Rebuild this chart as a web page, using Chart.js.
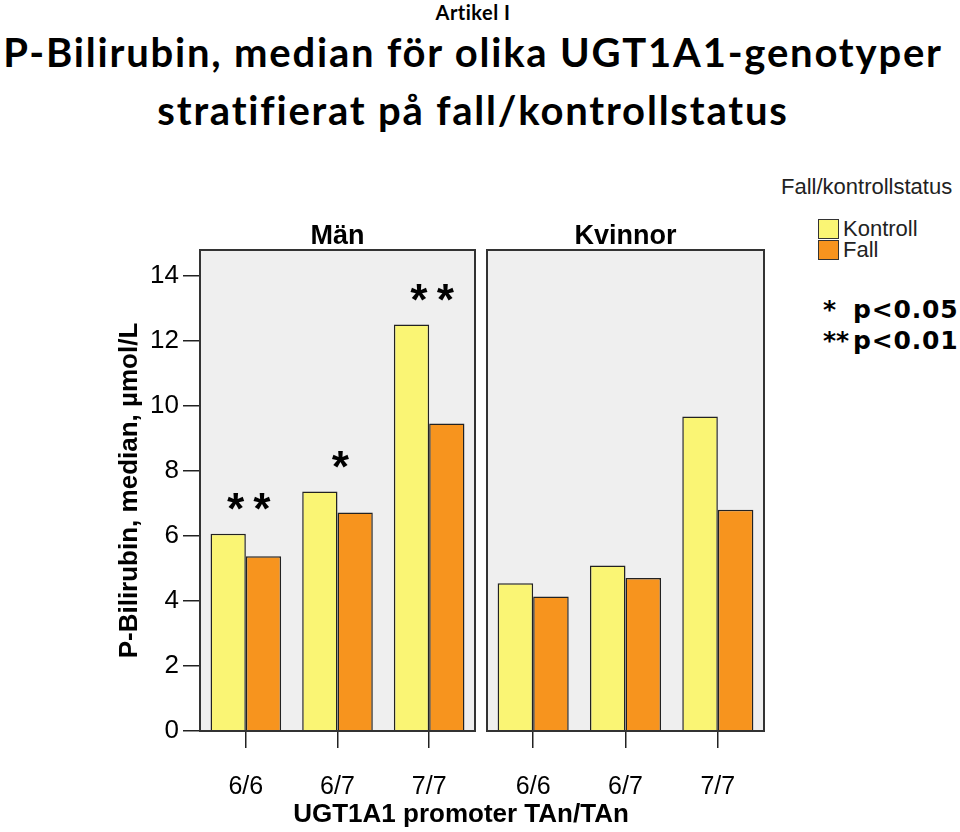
<!DOCTYPE html>
<html lang="sv">
<head>
  <meta charset="UTF-8" />
  <title>P-Bilirubin, median för olika UGT1A1-genotyper</title>
  <script src="https://cdn.jsdelivr.net/npm/chart.js"></script>
  <style>
    body {
      margin: 0;
      padding: 0;
      background: #fff;
      width: 960px;
      height: 832px;
      position: relative;
      overflow: hidden;
      font-family: "Liberation Sans", Arial, sans-serif;
      color: #000;
    }
    .abs { position: absolute; white-space: nowrap; }
    .head {
      left: 0; width: 946px;
      text-align: center;
      font-family: Lato, "Open Sans", sans-serif;
      font-weight: bold;
    }
    #artikel { top: 0; font-size: 20px; line-height: 24px; letter-spacing: 0.5px; }
    #line1 { top: 28px; font-size: 40px; line-height: 48px; letter-spacing: 1.8px; }
    #line2 { top: 86px; font-size: 40px; line-height: 48px; letter-spacing: 1.8px; }
    #xtitle {
      left: 200px; width: 522px; top: 798px;
      text-align: center; font-weight: bold; font-size: 26px; line-height: 30px;
    }
    #legend { left: 781px; top: 174px; font-size: 22px; color: #222; }
    #legend .ttl { line-height: 26px; margin-bottom: 18px; }
    #legend .item { margin-left: 37px; height: 21px; line-height: 21px; display: flex; align-items: center; }
    #legend .box { width: 19px; height: 18px; border: 1.5px solid #333; margin-right: 4px; }
    #notes {
      left: 823px; top: 294px;
      font-family: "DejaVu Sans", Verdana, sans-serif;
      font-weight: bold; font-size: 25px; line-height: 31px;
    }
    #notes .row { display: flex; }
    #notes .st { width: 30px; }
    #notes .tx { letter-spacing: 0.8px; }
    canvas { position: absolute; }
  </style>
</head>
<body>
  <div class="abs head" id="artikel">Artikel I</div>
  <div class="abs head" id="line1">P-Bilirubin, median för olika UGT1A1-genotyper</div>
  <div class="abs head" id="line2">stratifierat på fall/kontrollstatus</div>

  <div style="position:absolute;left:0;top:200px;width:480px;height:620px;"><canvas id="men"></canvas></div>
  <div style="position:absolute;left:480px;top:200px;width:300px;height:620px;"><canvas id="women"></canvas></div>

  <div class="abs" id="xtitle">UGT1A1 promoter TAn/TAn</div>
  <div class="abs" id="legend"></div>
  <div class="abs" id="notes">
    <div class="row"><span class="st">*</span><span class="tx">p&lt;0.05</span></div>
    <div class="row"><span class="st">**</span><span class="tx">p&lt;0.01</span></div>
  </div>

  <script>
    // data (median P-bilirubin, µmol/L)
    const genotypes = ['6/6', '6/7', '7/7'];
    const seriesNames = ['Kontroll', 'Fall'];
    const seriesColors = ['#faf574', '#f7941e'];
    const panelTitles = ['Män', 'Kvinnor'];
    const menKontroll = [6.07, 7.37, 12.51];
    const menFall = [5.38, 6.72, 9.46];
    const womenKontroll = [4.55, 5.09, 9.68];
    const womenFall = [4.14, 4.71, 6.81];
    const menStars = ['**', '*', '**'];
    const womenStars = ['', '', ''];
    const yTicks = [0, 2, 4, 6, 8, 10, 12, 14];
    const yMax = 14.8;

    const axisFont = '"Liberation Sans", Arial, sans-serif';

    // legend
    const legend = document.getElementById('legend');
    legend.innerHTML = '<div class="ttl">Fall/kontrollstatus</div>' +
      seriesNames.map((n, i) =>
        '<div class="item"><span class="box" style="background:' + seriesColors[i] + '"></span>' + n + '</div>'
      ).join('');

    // grey panel with frame, and the panel title centred over it
    const panelPlugin = {
      id: 'panel',
      beforeDraw(chart) {
        const a = chart.chartArea, ctx = chart.ctx;
        ctx.save();
        ctx.fillStyle = '#efefef';
        ctx.fillRect(a.left, a.top, a.right - a.left, a.bottom - a.top);
        ctx.restore();
      },
      afterDatasetsDraw(chart, args, opts) {
        const a = chart.chartArea, ctx = chart.ctx;
        ctx.save();
        ctx.strokeStyle = '#333';
        ctx.lineWidth = 2;
        ctx.strokeRect(a.left, a.top, a.right - a.left, a.bottom - a.top);
        ctx.fillStyle = '#000';
        ctx.font = 'bold 27px ' + axisFont;
        ctx.textAlign = 'center';
        ctx.textBaseline = 'middle';
        ctx.fillText(opts.title, (a.left + a.right) / 2, a.top - 13);
        ctx.restore();
      }
    };

    // significance stars above each bar pair
    const starPlugin = {
      id: 'stars',
      afterDatasetsDraw(chart, args, opts) {
        const ctx = chart.ctx;
        const xs = chart.scales.x, ys = chart.scales.y;
        const d = chart.data.datasets;
        ctx.save();
        ctx.font = 'bold 44px "Liberation Mono", "Courier New", monospace';
        ctx.textAlign = 'center';
        ctx.textBaseline = 'middle';
        ctx.fillStyle = '#000';
        opts.marks.forEach((s, i) => {
          if (!s) return;
          const top = Math.max(d[0].data[i], d[1].data[i]);
          ctx.fillText(s, xs.getPixelForValue(i) + 3, ys.getPixelForValue(top) - 20);
        });
        ctx.restore();
      }
    };

    function makePanel(id, title, kontroll, fall, stars, showY, pad) {
      return new Chart(document.getElementById(id), {
        type: 'bar',
        data: {
          labels: genotypes,
          datasets: [kontroll, fall].map((vals, i) => ({
            label: seriesNames[i],
            data: vals,
            backgroundColor: seriesColors[i],
            borderColor: '#222',
            borderWidth: 1.5,
            barPercentage: 1.0,
            categoryPercentage: 0.77
          }))
        },
        options: {
          responsive: true,
          maintainAspectRatio: false,
          animation: false,
          layout: { padding: pad },
          plugins: {
            legend: { display: false },
            tooltip: { enabled: false },
            title: { display: false },
            panel: { title: title },
            stars: { marks: stars }
          },
          scales: {
            x: {
              border: { display: false },
              grid: { offset: false, drawOnChartArea: false, drawTicks: true, tickLength: 17, color: '#222', lineWidth: 1.5 },
              ticks: { color: '#000', padding: 24, font: { family: axisFont, size: 25 } },
              afterFit(s) { s.height = 89; }
            },
            y: {
              display: showY,
              min: 0,
              max: yMax,
              border: { display: false },
              grid: { drawOnChartArea: false, drawTicks: true, tickLength: 17, color: '#222', lineWidth: 1.5 },
              afterBuildTicks(s) { s.ticks = yTicks.map(v => ({ value: v })); },
              ticks: { color: '#000', padding: 4, font: { family: axisFont, size: 26 } },
              title: {
                display: showY,
                text: 'P-Bilirubin, median, µmol/L',
                color: '#000',
                font: { family: axisFont, size: 26, weight: 'bold' },
                padding: { top: 14, bottom: 0 }
              },
              afterFit(s) { if (showY) s.width = 100; }
            }
          }
        },
        plugins: [panelPlugin, starPlugin]
      });
    }

    makePanel('men', panelTitles[0], menKontroll, menFall, menStars, true, { left: 100, right: 5, top: 50, bottom: 0 });
    makePanel('women', panelTitles[1], womenKontroll, womenFall, womenStars, false, { left: 7, right: 16, top: 50, bottom: 0 });
  </script>
</body>
</html>
